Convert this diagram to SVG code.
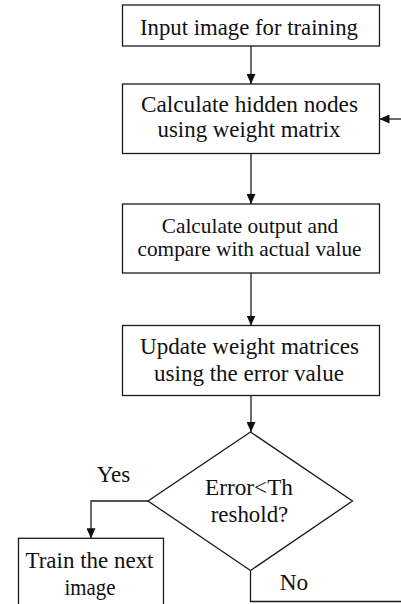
<svg xmlns="http://www.w3.org/2000/svg" width="401" height="604" viewBox="0 0 401 604">
  <style>
    .box { fill: #ffffff; stroke: #1a1a1a; stroke-width: 1.3; }
    .edge { fill: none; stroke: #1a1a1a; stroke-width: 1.3; }
    .t { font-family: "Liberation Serif", "Times New Roman", serif; font-size: 23px; fill: #111; text-anchor: middle; }
    .s { font-size: 21px; }
  </style>
  <defs>
    <marker id="arr" markerUnits="userSpaceOnUse" markerWidth="10" markerHeight="9" refX="10" refY="4.5" orient="auto">
      <path d="M0,0 L10,4.5 L0,9 Z" fill="#111"/>
    </marker>
  </defs>
  <rect width="401" height="604" fill="#ffffff"/>

  <g id="connectors">
    <line class="edge" x1="251" y1="46" x2="251" y2="84" marker-end="url(#arr)"/>
    <line class="edge" x1="251" y1="153.5" x2="251" y2="204" marker-end="url(#arr)"/>
    <line class="edge" x1="251" y1="273" x2="251" y2="325.5" marker-end="url(#arr)"/>
    <line class="edge" x1="251" y1="395.5" x2="251" y2="432" marker-end="url(#arr)"/>
    <line class="edge" x1="401" y1="119" x2="379.5" y2="119" marker-end="url(#arr)"/>
    <path class="edge" d="M148,501 H91 V538.3" marker-end="url(#arr)"/>
    <path class="edge" d="M250.5,570.5 V601.5 H401"/>
  </g>

  <g id="n1">
    <rect class="box" x="122.5" y="5" width="257" height="41"/>
    <text class="t" x="249" y="35" textLength="218" lengthAdjust="spacingAndGlyphs">Input image for training</text>
  </g>
  <g id="n2">
    <rect class="box" x="122.5" y="84" width="257" height="69.5"/>
    <text class="t" x="249.5" y="111.5" textLength="217" lengthAdjust="spacingAndGlyphs">Calculate hidden nodes</text>
    <text class="t" x="249" y="136.5" textLength="183" lengthAdjust="spacingAndGlyphs">using weight matrix</text>
  </g>
  <g id="n3">
    <rect class="box" x="122.5" y="204" width="257" height="69"/>
    <text class="t s" x="250" y="233" textLength="176.5" lengthAdjust="spacingAndGlyphs">Calculate output and</text>
    <text class="t s" x="249.5" y="255.5" textLength="224" lengthAdjust="spacingAndGlyphs">compare with actual value</text>
  </g>
  <g id="n4">
    <rect class="box" x="122.5" y="325.5" width="257" height="70"/>
    <text class="t" x="249.5" y="353.5" textLength="219" lengthAdjust="spacingAndGlyphs">Update weight matrices</text>
    <text class="t" x="249" y="381" textLength="190" lengthAdjust="spacingAndGlyphs">using the error value</text>
  </g>
  <g id="n5">
    <polygon class="box" points="250.5,432 352.5,501 250.5,570.5 148,501"/>
    <text class="t" x="249" y="495" textLength="88" lengthAdjust="spacingAndGlyphs">Error&lt;Th</text>
    <text class="t" x="249.5" y="521.5" textLength="77.5" lengthAdjust="spacingAndGlyphs">reshold?</text>
  </g>
  <g id="n6">
    <rect class="box" x="18.5" y="538.3" width="145" height="70"/>
    <text class="t" x="89.5" y="568" textLength="128" lengthAdjust="spacingAndGlyphs">Train the next</text>
    <text class="t" x="90" y="595" textLength="51" lengthAdjust="spacingAndGlyphs">image</text>
  </g>
  <g id="labels">
    <text class="t" x="113.5" y="481.5" textLength="33.5" lengthAdjust="spacingAndGlyphs">Yes</text>
    <text class="t" x="294" y="590" textLength="28.5" lengthAdjust="spacingAndGlyphs">No</text>
  </g>
</svg>
